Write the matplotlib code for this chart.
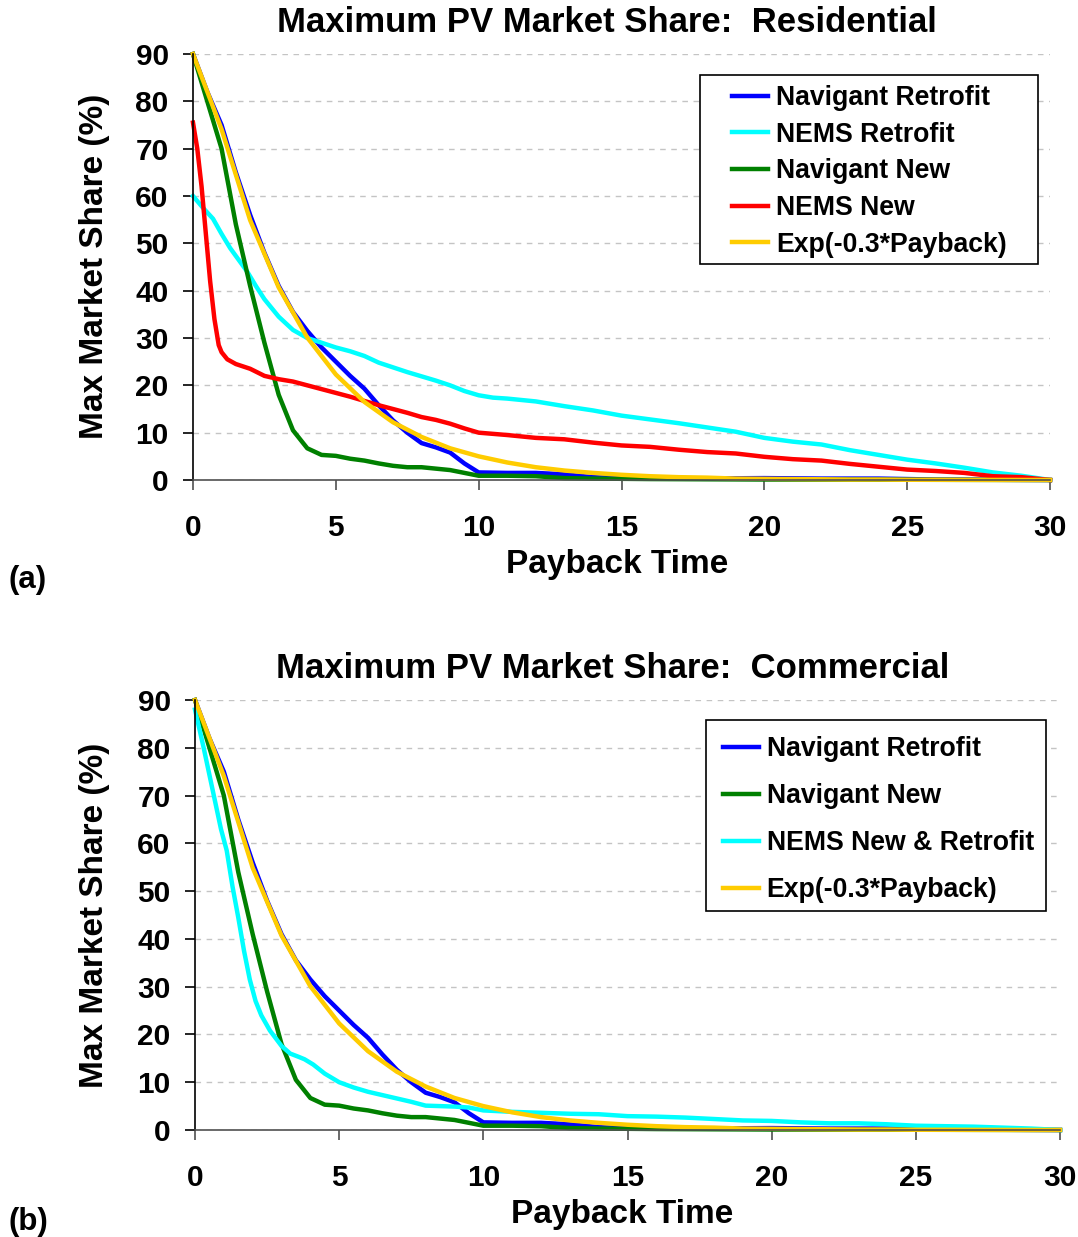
import matplotlib
matplotlib.use("Agg")
import matplotlib.pyplot as plt
from matplotlib.patches import Rectangle
from matplotlib.transforms import IdentityTransform

plt.rcParams['font.family'] = ['Liberation Sans', 'DejaVu Sans']
plt.rcParams['font.weight'] = 'bold'

# ---------------- data ----------------
nav_retro_x = [0, 0.5, 1.0, 1.5, 2.0, 2.5, 3.0, 3.5, 4.0, 4.5, 5.0, 5.5, 6.0, 6.5, 7.0, 7.5,
               8.0, 8.5, 9.0, 9.5, 10.0, 11, 12, 13, 14, 15, 17, 20, 22, 24, 26, 30]
nav_retro_y = [90, 82, 75, 65, 56, 48, 41, 35.5, 31.5, 28, 25, 22, 19.3, 15.8, 12.6, 10,
               7.8, 6.9, 5.8, 3.5, 1.6, 1.5, 1.5, 1.2, 0.6, 0.4, 0.3, 0.4, 0.3, 0.3, 0.1, 0]

nav_new_x = [0, 0.5, 1.0, 1.25, 1.5, 2.0, 2.5, 3.0, 3.5, 4.0, 4.5, 5.0, 5.5, 6.0, 6.5, 7.0,
             7.5, 8.0, 8.5, 9.0, 9.5, 10.0, 11, 12, 13, 14, 16, 20, 30]
nav_new_y = [90, 80, 70, 62, 54, 41, 29, 18, 10.5, 6.7, 5.3, 5.1, 4.5, 4.1, 3.5, 3.0,
             2.7, 2.7, 2.4, 2.1, 1.5, 0.9, 0.9, 0.8, 0.4, 0.3, 0.2, 0.1, 0]

nems_retro_x = [0, 0.35, 0.7, 1.0, 1.3, 1.6, 1.9, 2.2, 2.5, 3.0, 3.5, 4.0, 4.5, 5.0, 5.5,
                6.0, 6.5, 7.0, 7.5, 8.0, 8.5, 9.0, 9.5, 10.0, 10.5, 11, 12, 13, 14, 15,
                16, 17, 18, 19, 20, 21, 22, 23, 24, 25, 26, 27, 28, 29, 30]
nems_retro_y = [60, 57.5, 55.2, 52, 49, 46.5, 44, 41, 38.2, 34.5, 31.7, 30, 29, 28, 27.2,
                26.2, 24.8, 23.8, 22.8, 21.9, 21, 20, 18.8, 17.9, 17.4, 17.2, 16.6, 15.6, 14.7, 13.6,
                12.8, 12.0, 11.1, 10.2, 8.9, 8.1, 7.5, 6.3, 5.3, 4.3, 3.5, 2.6, 1.6, 0.9, 0]

nems_new_x = [0, 0.15, 0.3, 0.45, 0.6, 0.75, 0.9, 1.0, 1.2, 1.5, 2.0, 2.5, 3.0, 3.5, 4.0,
              4.5, 5.0, 5.5, 6.0, 6.5, 7.0, 7.5, 8.0, 8.5, 9.0, 9.5, 10.0, 11, 12, 13,
              14, 15, 16, 17, 18, 19, 20, 21, 22, 23, 24, 25, 26, 27, 28, 29, 30]
nems_new_y = [75.5, 70, 62, 52, 42, 34, 28.5, 27, 25.5, 24.5, 23.5, 22, 21.3, 20.8, 20,
              19.2, 18.4, 17.6, 16.7, 15.8, 15.0, 14.2, 13.3, 12.7, 11.9, 10.9, 10.0, 9.5, 8.9, 8.6,
              7.9, 7.3, 7.0, 6.4, 5.9, 5.6, 4.9, 4.4, 4.1, 3.4, 2.8, 2.2, 1.9, 1.5, 0.8, 0.6, 0]

exp_x = list(range(0, 31))
exp_y = [90, 74.1, 54.9, 40.7, 30.1, 22.3, 16.5, 12.2, 9.1, 6.7, 5.0, 3.7, 2.7, 2.0, 1.5,
         1.1, 0.8, 0.6, 0.5, 0.3, 0.25, 0.2, 0.15, 0.1, 0.1, 0.05, 0.05, 0.03, 0.02, 0.01, 0.01]

nems_comm_x = [0, 0.3, 0.6, 0.9, 1.1, 1.3, 1.5, 1.7, 1.9, 2.1, 2.3, 2.6, 3.0, 3.3, 3.6, 3.8,
               4.1, 4.5, 5.0, 5.5, 6.0, 6.5, 7.0, 7.5, 8.0, 8.5, 9.0, 9.5, 10, 11, 12, 13,
               14, 15, 16, 17, 18, 19, 20, 21, 22, 23, 24, 25, 26, 27, 28, 29, 30]
nems_comm_y = [88, 80, 71.5, 63, 58.5, 51, 44.5, 37.5, 31.5, 27, 24, 20.8, 17.6, 16, 15.3, 14.8,
               13.7, 11.8, 10, 8.9, 8.0, 7.3, 6.6, 5.9, 5.1, 5.0, 4.9, 4.7, 4.1, 3.8, 3.6, 3.4,
               3.3, 2.9, 2.8, 2.6, 2.3, 2.0, 1.9, 1.6, 1.4, 1.4, 1.2, 0.9, 0.8, 0.7, 0.5, 0.3, 0]

x_ticks = [0, 5, 10, 15, 20, 25, 30]
y_ticks = [0, 10, 20, 30, 40, 50, 60, 70, 80, 90]

BLUE, CYAN, GREEN, RED, YELLOW = '#0000FF', '#00FFFF', '#008000', '#FF0000', '#FFCC00'

# ---------------- figure ----------------
W, H = 1078, 1237
fig = plt.figure(figsize=(W / 100, H / 100), dpi=100)


def px_axes(left, top, right, bottom):
    return fig.add_axes([left / W, 1 - bottom / H, (right - left) / W, (bottom - top) / H])


def style_axes(ax):
    ax.set_xlim(0, 30)
    ax.set_ylim(0, 90)
    ax.set_xticks(x_ticks)
    ax.set_yticks(y_ticks)
    for s in ['top', 'right']:
        ax.spines[s].set_visible(False)
    ax.spines['left'].set_color('black')
    ax.spines['bottom'].set_color('#505050')
    ax.spines['left'].set_linewidth(1.2)
    ax.spines['bottom'].set_linewidth(1.2)
    ax.tick_params(axis='x', direction='out', length=7.5, width=1.2, color='#505050',
                   pad=17, labelsize=21.5)
    ax.tick_params(axis='y', direction='out', length=7.5, width=1.2, color='black',
                   pad=10, labelsize=21.5)
    for lab in ax.get_xticklabels() + ax.get_yticklabels():
        lab.set_fontweight('bold')
    ax.yaxis.grid(True, color='#c4c4c4', linestyle=(0, (4, 4)), linewidth=1)
    ax.set_axisbelow(True)


LEG_FS = 19.2


def make_legend(ax, handles, box_px, pads, labelspacing):
    # box_px = (left, top, right, bottom) of frame in pixels; pads = (l, t, r, b)
    right, top = box_px[2] - pads[2], box_px[1] + pads[1]
    leg = ax.legend(handles, [h.get_label() for h in handles], loc='upper right',
                    bbox_to_anchor=(right / W, 1 - top / H),
                    bbox_transform=fig.transFigure, frameon=False,
                    prop={'weight': 'bold', 'size': LEG_FS}, handlelength=1.35,
                    handletextpad=0.3, labelspacing=labelspacing, borderpad=0,
                    borderaxespad=0)
    leg.set_zorder(6)
    return leg


LW = 3.2

# ---------- (a) Residential ----------
ax1 = px_axes(193, 54, 1050, 480)
l1, = ax1.plot(nav_retro_x, nav_retro_y, color=BLUE, lw=LW, label='Navigant Retrofit')
l2, = ax1.plot(nems_retro_x, nems_retro_y, color=CYAN, lw=LW, label='NEMS Retrofit')
l3, = ax1.plot(nav_new_x, nav_new_y, color=GREEN, lw=LW, label='Navigant New')
l4, = ax1.plot(nems_new_x, nems_new_y, color=RED, lw=LW, label='NEMS New')
l5, = ax1.plot(exp_x, exp_y, color=YELLOW, lw=LW, label='Exp(-0.3*Payback)')
for l in (l1, l2, l3, l4, l5):
    l.set_clip_on(False)
style_axes(ax1)
pads1 = (32, 10, 31, 6)
leg1 = make_legend(ax1, [l1, l2, l3, l4, l5], (698, 75, 1038, 263), pads1, 0.4)

# ---------- (b) Commercial ----------
ax2 = px_axes(195, 700, 1060, 1130)
m1, = ax2.plot(nav_retro_x, nav_retro_y, color=BLUE, lw=LW, label='Navigant Retrofit')
m2, = ax2.plot(nav_new_x, nav_new_y, color=GREEN, lw=LW, label='Navigant New')
m3, = ax2.plot(nems_comm_x, nems_comm_y, color=CYAN, lw=LW, label='NEMS New & Retrofit')
m4, = ax2.plot(exp_x, exp_y, color=YELLOW, lw=LW, label='Exp(-0.3*Payback)')
for l in (m1, m2, m3, m4):
    l.set_clip_on(False)
style_axes(ax2)
pads2 = (17, 16, 12, 8)
leg2 = make_legend(ax2, [m1, m2, m3, m4], (705, 720, 1046, 911), pads2, 0.79)

# ---------- text ----------
tkw = dict(fontweight='bold', ha='center', va='center')
fig.text(607 / W, 1 - 23 / H, 'Maximum PV Market Share:  Residential', fontsize=25, **tkw)
fig.text(613 / W, 1 - 668 / H, 'Maximum PV Market Share:  Commercial', fontsize=25, **tkw)
fig.text(617 / W, 1 - 565 / H, 'Payback Time', fontsize=24, **tkw)
fig.text(622 / W, 1 - 1215 / H, 'Payback Time', fontsize=24, **tkw)
fig.text(95 / W, 1 - 266 / H, 'Max Market Share (%)', fontsize=24, rotation=90, **tkw)
fig.text(95 / W, 1 - 915 / H, 'Max Market Share (%)', fontsize=24, rotation=90, **tkw)
fig.text(9 / W, 1 - 580 / H, '(a)', fontsize=22.5, fontweight='bold', ha='left', va='center')
fig.text(9 / W, 1 - 1222 / H, '(b)', fontsize=22.5, fontweight='bold', ha='left', va='center')

# ---------- legend frames (separate horizontal / vertical padding) ----------
fig.canvas.draw()
renderer = fig.canvas.get_renderer()
for ax, leg, p in ((ax1, leg1, pads1), (ax2, leg2, pads2)):
    bb = leg.get_window_extent(renderer)
    x0, y0 = bb.x0 - p[0], bb.y0 - p[3]
    rect = Rectangle((x0, y0), bb.x1 + p[2] - x0, bb.y1 + p[1] - y0,
                     transform=IdentityTransform(), facecolor='white', edgecolor='black',
                     linewidth=1.2, zorder=5, clip_on=False)
    ax.add_artist(rect)

fig.savefig('out.png', dpi=100)
